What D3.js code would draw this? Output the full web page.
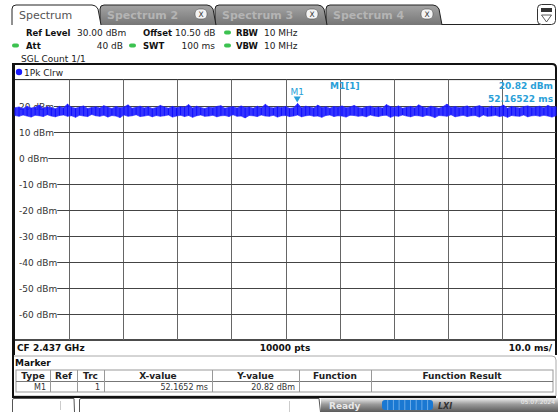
<!DOCTYPE html>
<html><head><meta charset="utf-8">
<script src="https://cdn.jsdelivr.net/npm/d3@7"></script>
<style>
html,body{margin:0;padding:0;background:#fff;}
svg{display:block;font-family:"DejaVu Sans",Verdana,sans-serif;}
</style></head><body>
<svg id="c" width="558" height="412"></svg>
<script>
// ---- data ----
const tabs = ["Spectrum", "Spectrum 2", "Spectrum 3", "Spectrum 4"];
const yTicks = [20, 10, 0, -10, -20, -30, -40, -50, -60];
const yTickLabels = ["20 dBm", "10 dBm", "0 dBm", "-10 dBm", "-20 dBm", "-30 dBm", "-40 dBm", "-50 dBm", "-60 dBm"];
const refLevel = 30, bottomLevel = -70;       // dBm
const sweepTime = 100;                          // ms
const xDivs = [0,10,20,30,40,50,60,70,80,90,100];
// peak envelope of the trace (per display column group), dBm
const traceMaxDbm = [
19.2,19.5,18.9,19.8,19.1,19.4,20.2,19.0,19.6,19.3,
18.8,19.7,19.2,20.6,19.4,19.0,19.5,19.9,18.9,19.3,
19.6,19.1,20.0,19.4,18.9,19.7,19.2,19.5,20.3,19.0,
19.4,19.8,19.1,19.6,18.9,19.3,20.1,19.5,19.0,19.7,
19.2,19.6,19.4,20.4,19.1,19.8,19.3,18.9,19.5,19.2,
19.7,20.0,19.0,19.4,19.6,19.1,19.9,19.3,19.5,19.0,
19.8,19.2,20.5,19.4,19.1,19.6,19.3,19.7,19.0,19.2,
20.82,19.2,19.8,19.5,19.1,20.2,19.3,19.6,19.0,19.7,
19.4,19.9,19.2,19.5,20.1,19.3,19.0,19.6,19.8,19.2,
19.5,19.1,20.4,19.6,19.3,19.9,19.0,19.4,19.7,19.2,
20.3,19.5,19.1,19.8,19.4,19.0,19.6,20.6,19.3,19.7,
19.2,19.5,19.9,19.1,19.6,20.0,19.4,19.2,19.8,19.3,
19.5,20.2,19.0,19.7,19.4,19.1,19.6,19.9,19.3,19.5,
19.8,19.2,20.1,19.4,19.6
];
// minimum envelope of the trace, dBm
const traceMinDbm = [
16.2,15.9,16.4,16.0,15.6,16.3,16.1,15.8,16.5,16.0,
15.7,16.2,16.4,15.9,16.1,15.5,16.3,16.0,15.8,16.6,
16.1,15.9,16.3,15.6,16.2,16.0,15.4,16.4,15.9,16.1,
16.5,15.8,16.0,16.3,15.7,16.2,15.9,16.1,16.4,15.6,
16.0,16.3,15.8,16.2,15.5,16.1,16.4,15.9,16.0,16.3,
15.7,16.1,16.2,15.8,16.5,15.9,16.0,15.3,16.2,16.1,
15.8,16.4,16.0,15.9,16.3,15.6,16.1,16.2,15.8,16.0,
16.4,15.7,16.1,16.3,15.9,16.0,15.5,16.2,16.4,15.8,
16.1,16.0,15.6,16.3,16.2,15.9,16.1,15.7,16.4,16.0,
15.8,16.2,16.3,15.5,16.1,15.9,16.4,16.0,15.7,16.2,
16.1,15.8,16.3,16.0,15.4,16.2,16.1,15.9,16.5,15.7,
16.0,16.3,15.8,16.1,16.2,15.6,16.4,15.9,16.0,16.3,
15.8,16.1,15.5,16.2,16.0,15.9,16.4,15.7,16.1,16.2,
15.9,16.3,16.0,15.6,16.1
];
const markerName = "M1";
const markerTime = 52.16522;   // ms
const markerDbm = 20.82;
const headerRow1 = [["Ref Level","30.00 dBm"],["Offset","10.50 dB"],["RBW","10 MHz"]];
const headerRow2 = [["Att","40 dB"],["SWT","100 ms"],["VBW","10 MHz"]];
const tableCols = ["Type","Ref","Trc","X-value","Y-value","Function","Function Result"];
const tableRow = ["M1","","1","52.1652 ms","20.82 dBm","",""];

// ---- drawing ----
const svg = d3.select("#c");
const defs = svg.append("defs");
const g1 = defs.append("linearGradient").attr("id","tabg").attr("x1",0).attr("y1",0).attr("x2",0).attr("y2",1);
g1.append("stop").attr("offset","0%").attr("stop-color","#a4a4a4");
g1.append("stop").attr("offset","100%").attr("stop-color","#767676");
const g2 = defs.append("linearGradient").attr("id","stg").attr("x1",0).attr("y1",0).attr("x2",0).attr("y2",1);
g2.append("stop").attr("offset","0%").attr("stop-color","#f0f0f0");
g2.append("stop").attr("offset","45%").attr("stop-color","#9a9a9a");
g2.append("stop").attr("offset","100%").attr("stop-color","#5a5a5a");

const FONT = 9, BFONT = 8.5;

// tabs
const tabX = [12, 100, 215, 326, 441];
svg.append("line").attr("x1",100).attr("x2",540).attr("y1",24.5).attr("y2",24.5).attr("stroke","#222").attr("stroke-width",1);
for (let i = tabs.length - 1; i >= 0; i--) {
  const x0 = tabX[i], x1 = tabX[i+1] - 1;
  const p = `M${x0},25 L${x0},9 Q${x0},5 ${x0+4},5 L${x1-7},5 Q${x1-3},5 ${x1-1},9 L${x1+2},25`;
  svg.append("path").attr("d", p)
    .attr("fill", i === 0 ? "#fff" : "url(#tabg)")
    .attr("stroke", "#222").attr("stroke-width", 1);
  svg.append("text").attr("x", x0 + 7).attr("y", 19)
    .attr("font-size", 11).attr("font-weight", i === 0 ? "normal" : "bold")
    .attr("fill", i === 0 ? "#555" : "#b4b4b4").text(tabs[i]);
  if (i > 0) {
    const bx = x1 - 19;
    svg.append("rect").attr("x", bx).attr("y", 9).attr("width", 12).attr("height", 10).attr("rx", 4)
      .attr("fill", "#f4f4f4").attr("stroke", "#555").attr("stroke-width", 0.6);
    svg.append("text").attr("x", bx + 6).attr("y", 17).attr("text-anchor", "middle")
      .attr("font-size", 7.5).attr("fill", "#333").text("X");
  }
}
// top-right icon
svg.append("rect").attr("x",537.5).attr("y",4.5).attr("width",18).attr("height",20).attr("rx",4)
  .attr("fill","#fff").attr("stroke","#333");
svg.append("rect").attr("x",541).attr("y",8).attr("width",11).attr("height",4).attr("fill","#333");
svg.append("path").attr("d","M541.5,15 L551.5,15 L546.5,22 Z").attr("fill","none").attr("stroke","#333").attr("stroke-width",0.8);

// header info
function pill(x, y) {
  svg.append("rect").attr("x", x).attr("y", y - 5.5).attr("width", 7).attr("height", 4).attr("rx", 2)
    .attr("fill", "#3cc250");
}
const hx1 = [[26,77],[143,175],[236,264]];
headerRow1.forEach((d, i) => {
  svg.append("text").attr("x", hx1[i][0]).attr("y", 36).attr("font-size", BFONT).attr("font-weight","bold").attr("fill","#111").text(d[0]);
  svg.append("text").attr("x", hx1[i][1]).attr("y", 36).attr("font-size", FONT).attr("fill","#222").text(d[1]);
});
pill(224, 36);
const hx2 = [[26,123],[143,215],[236,264]];
headerRow2.forEach((d, i) => {
  svg.append("text").attr("x", hx2[i][0]).attr("y", 49).attr("font-size", BFONT).attr("font-weight","bold").attr("fill","#111").text(d[0]);
  svg.append("text").attr("x", hx2[i][1]).attr("y", 49).attr("font-size", FONT).attr("fill","#222")
    .attr("text-anchor", i < 2 ? "end" : "start").text(d[1]);
});
pill(12, 49); pill(129, 49); pill(224, 49);
svg.append("text").attr("x", 21).attr("y", 62).attr("font-size", FONT).attr("fill","#222").text("SGL Count 1/1");

// diagram frame
const frameL = 12, frameR = 556, frameT = 64, frameB = 355;
svg.append("path").attr("d", `M${frameL+1},${frameB} L${frameL+1},${frameT} L${frameR-4},${frameT} Q${frameR},${frameT} ${frameR},${frameT+4} L${frameR},${frameB}`)
  .attr("fill","#fff").attr("stroke","#111").attr("stroke-width",2);
svg.append("line").attr("x1",frameL+2).attr("x2",frameL+2).attr("y1",frameT).attr("y2",frameB).attr("stroke","#111").attr("stroke-width",2);

// trace label
svg.append("circle").attr("cx",19).attr("cy",72).attr("r",3.2).attr("fill","#1a1aff");
svg.append("text").attr("x",24).attr("y",76).attr("font-size",FONT).attr("fill","#222").text("1Pk Clrw");

// scales
const plotL = 15, plotR = 556, plotT = 79.6, plotB = 340;
const x = d3.scaleLinear().domain([0, sweepTime]).range([plotL, plotR]);
const y = d3.scaleLinear().domain([bottomLevel, refLevel]).range([plotB, plotT]);

svg.append("line").attr("x1",plotL).attr("x2",plotR).attr("y1",y(refLevel)).attr("y2",y(refLevel)).attr("stroke","#222").attr("stroke-width",1);
svg.append("line").attr("x1",plotL).attr("x2",plotR).attr("y1",y(bottomLevel)).attr("y2",y(bottomLevel)).attr("stroke","#111").attr("stroke-width",1.5);

// vertical grid
svg.append("g").selectAll("line").data(xDivs.slice(1, -1)).join("line")
  .attr("x1", d => Math.round(x(d)) + 0.5).attr("x2", d => Math.round(x(d)) + 0.5)
  .attr("y1", y(refLevel)).attr("y2", y(bottomLevel))
  .attr("stroke", "#666").attr("stroke-width", 1);

// horizontal grid + labels
const gy = svg.append("g");
yTicks.forEach((v, i) => {
  const t = gy.append("text").attr("x", 19).attr("y", Math.round(y(v)) + 3.5)
    .attr("font-size", FONT).attr("fill", "#333").text(yTickLabels[i]);
  const w = t.node().getComputedTextLength();
  gy.insert("line", "text").attr("x1", 19 + w).attr("x2", plotR)
    .attr("y1", Math.round(y(v)) + 0.5).attr("y2", Math.round(y(v)) + 0.5)
    .attr("stroke", "#444").attr("stroke-width", 1);
});

// trace (min/max envelope band)
const n = traceMaxDbm.length;
const tx = i => x(i / (n - 1) * sweepTime);
const env = traceMaxDbm.map((v, i) => ({i, hi: v, lo: traceMinDbm[i]}));
svg.append("path").datum(env)
  .attr("d", d3.area().x(d => tx(d.i)).y0(d => y(d.lo)).y1(d => y(d.hi)))
  .attr("fill", "#1e1eff").attr("fill-opacity", 0.9);
svg.append("path").datum(env)
  .attr("d", d3.line().x(d => tx(d.i)).y(d => y(d.hi)))
  .attr("fill", "none").attr("stroke", "#2a2aff").attr("stroke-width", 0.8).attr("stroke-opacity", 0.8);
svg.append("path").datum(env)
  .attr("d", d3.line().x(d => tx(d.i)).y(d => y(d.lo)))
  .attr("fill", "none").attr("stroke", "#2a2aff").attr("stroke-width", 0.8).attr("stroke-opacity", 0.8);
// vertical spikes at each column
svg.append("g").selectAll("line").data(env).join("line")
  .attr("x1", d => tx(d.i)).attr("x2", d => tx(d.i))
  .attr("y1", d => y(d.hi)).attr("y2", d => y(d.lo))
  .attr("stroke", "#1010ff").attr("stroke-width", 1);

// marker
const mc = "#2a9fd8";
const mx = x(markerTime), my = y(markerDbm);
svg.append("path").attr("d", `M${mx-3.5},${my-7} L${mx+3.5},${my-7} L${mx},${my-1} Z`).attr("fill", mc);
svg.append("text").attr("x", mx).attr("y", my - 9).attr("text-anchor","middle").attr("font-size", FONT).attr("fill", mc).text(markerName);
svg.append("text").attr("x", 330).attr("y", 89).attr("font-size", FONT).attr("font-weight","bold").attr("fill", mc).text("M1[1]");
svg.append("text").attr("x", 553).attr("y", 89).attr("text-anchor","end").attr("font-size", FONT).attr("font-weight","bold").attr("fill", mc).text(markerDbm.toFixed(2) + " dBm");
svg.append("text").attr("x", 553).attr("y", 102).attr("text-anchor","end").attr("font-size", FONT).attr("font-weight","bold").attr("fill", mc).text(markerTime.toFixed(5) + " ms");

// footer
svg.append("text").attr("x", 17).attr("y", 351).attr("font-size", FONT).attr("font-weight","bold").attr("fill","#111").text("CF 2.437 GHz");
svg.append("text").attr("x", 285).attr("y", 351).attr("text-anchor","middle").attr("font-size", FONT).attr("font-weight","bold").attr("fill","#111").text("10000 pts");
svg.append("text").attr("x", 552).attr("y", 351).attr("text-anchor","end").attr("font-size", FONT).attr("font-weight","bold").attr("fill","#111").text((sweepTime/10).toFixed(1) + " ms/");

// marker table panel
svg.append("path").attr("d", `M13,356 L552,356 Q556,356 556,360 L556,396 L13,396 Z`)
  .attr("fill","#fff").attr("stroke","#aaa").attr("stroke-width",1);
svg.append("line").attr("x1",13).attr("x2",13).attr("y1",355).attr("y2",397).attr("stroke","#111").attr("stroke-width",2);
svg.append("line").attr("x1",12).attr("x2",556).attr("y1",397).attr("y2",397).attr("stroke","#111").attr("stroke-width",2);
svg.append("text").attr("x", 15).attr("y", 366).attr("font-size", FONT).attr("font-weight","bold").attr("fill","#111").text("Marker");
const colEdges = [16, 50, 77, 104, 212, 299, 371, 553];
const hy0 = 370, hy1 = 381, ry1 = 392;
svg.append("rect").attr("x",16).attr("y",hy0).attr("width",537).attr("height",ry1-hy0).attr("fill","#fff").attr("stroke","#999");
svg.append("line").attr("x1",16).attr("x2",553).attr("y1",hy1+0.5).attr("y2",hy1+0.5).attr("stroke","#777");
colEdges.slice(1,-1).forEach(cx => {
  svg.append("line").attr("x1",cx+0.5).attr("x2",cx+0.5).attr("y1",hy0).attr("y2",ry1).attr("stroke","#999");
});
tableCols.forEach((c, i) => {
  svg.append("text").attr("x",(colEdges[i]+colEdges[i+1])/2).attr("y",hy1-2)
    .attr("text-anchor","middle").attr("font-size",FONT).attr("font-weight","bold").attr("fill","#222").text(c);
});
tableRow.forEach((c, i) => {
  if (!c) return;
  svg.append("text").attr("x", colEdges[i+1]-4).attr("y", ry1-2.5)
    .attr("text-anchor","end").attr("font-size",8).attr("fill","#333").text(c);
});

// status bar
svg.append("rect").attr("x",0).attr("y",398).attr("width",558).attr("height",14).attr("fill","#fff");
svg.append("path").attr("d","M12.5,412 L12.5,400 Q12.5,398.5 14,398.5 L74,398.5 L74.5,412").attr("fill","#fff").attr("stroke","#555");
svg.append("path").attr("d","M79.5,412 L79.5,400 Q79.5,398.5 81,398.5 L319,398.5 L320.5,412").attr("fill","#fff").attr("stroke","#555");
svg.append("line").attr("x1",60.5).attr("x2",60.5).attr("y1",401).attr("y2",410).attr("stroke","#ccc");
svg.append("line").attr("x1",289.5).attr("x2",289.5).attr("y1",401).attr("y2",412).attr("stroke","#ccc");
svg.append("rect").attr("x",321).attr("y",398).attr("width",237).attr("height",14).attr("fill","url(#stg)");
svg.append("text").attr("x",329).attr("y",409).attr("font-size",9).attr("font-weight","bold").attr("fill","#e8e8e8").text("Ready");
svg.append("rect").attr("x",382).attr("y",400).attr("width",51).attr("height",10).attr("rx",3).attr("fill","#1a78d2");
d3.range(1,9).forEach(k => svg.append("line").attr("x1",382+k*5.7).attr("x2",382+k*5.7).attr("y1",400).attr("y2",410).attr("stroke","#7fb8ee").attr("stroke-width",0.8));
svg.append("text").attr("x",438).attr("y",409).attr("font-size",8).attr("font-weight","bold").attr("font-style","italic").attr("fill","#333").text("LXI");
svg.append("text").attr("x",555).attr("y",404).attr("text-anchor","end").attr("font-size",6).attr("fill","#eee").text("05.07.2024");
</script>
</body></html>
